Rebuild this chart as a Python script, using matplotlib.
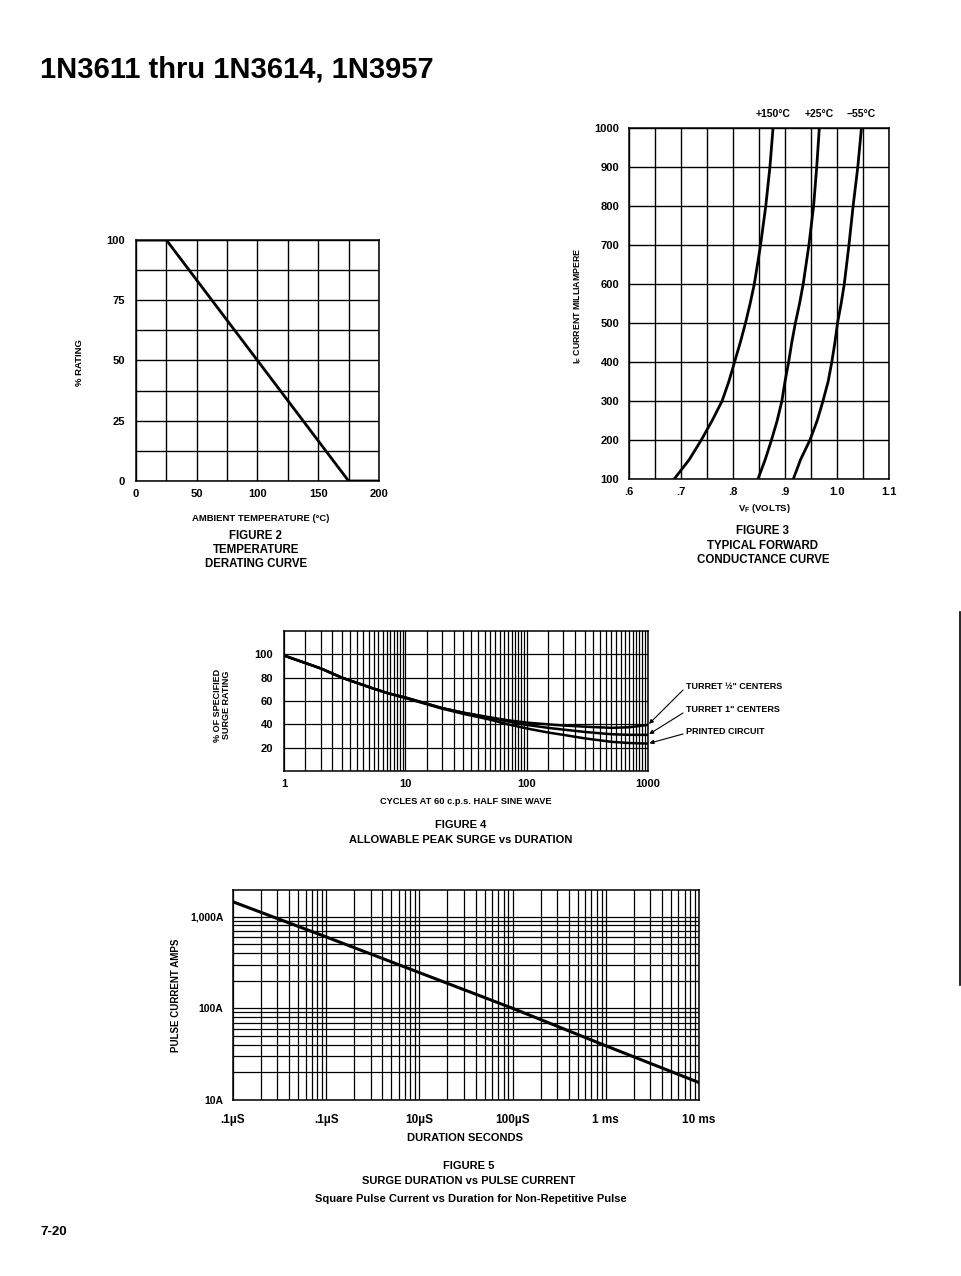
import numpy as np
import matplotlib
matplotlib.use('Agg')
import matplotlib.pyplot as plt
from matplotlib.lines import Line2D
from matplotlib.ticker import FixedLocator, NullFormatter

plt.rcParams['font.family'] = ['Liberation Sans Narrow', 'Liberation Sans', 'DejaVu Sans']
plt.rcParams['font.weight'] = 'bold'
plt.rcParams['axes.linewidth'] = 1.1

W, H = 962, 1276

# figure 2 - temperature derating
temp_x = [0, 25, 175, 200]
rating_y = [100, 100, 0, 0]
temp_ticks = [0, 50, 100, 150, 200]
rating_ticks = [0, 25, 50, 75, 100]

# figure 3 - forward conductance (mA)
vf_ticks = [0.6, 0.7, 0.8, 0.9, 1.0, 1.1]
vf_labels = ['.6', '.7', '.8', '.9', '1.0', '1.1']
if_ticks = [100, 200, 300, 400, 500, 600, 700, 800, 900, 1000]
if_ma = [100, 150, 200, 250, 300, 350, 400, 450, 500, 550, 600, 700, 800, 900, 1000]
vf_150 = [0.687, 0.716, 0.739, 0.760, 0.779, 0.792, 0.803, 0.814, 0.824, 0.833, 0.841,
          0.853, 0.863, 0.871, 0.877]
vf_25 = [0.848, 0.862, 0.874, 0.885, 0.894, 0.900, 0.907, 0.913, 0.920, 0.928, 0.935,
         0.946, 0.955, 0.961, 0.966]
vf_m55 = [0.916, 0.930, 0.948, 0.962, 0.973, 0.983, 0.990, 0.996, 1.001, 1.008, 1.014,
          1.023, 1.031, 1.040, 1.047]
temp_names = ['+150°C', '+25°C', '\u221255°C']

# figure 4 - peak surge vs duration
cycles = [1, 2, 3, 5, 7, 10, 20, 30, 50, 70, 100, 150, 200, 300, 500, 700, 1000]
turret_half = [99, 88, 80, 72, 67, 63, 54, 50, 46, 43.5, 41.5, 40, 39, 38, 37, 37.5, 39.5]
turret_one = [99, 88, 80, 72, 67, 63, 54, 50, 45.5, 42.5, 39.5, 37, 35.5, 33.5, 31.5, 31, 31]
printed = [99, 88, 80, 72, 67, 62.5, 53.5, 49, 44, 40, 36.5, 33, 31, 28, 25, 24, 23.5]
surge_ticks = [20, 40, 60, 80, 100]
cycle_ticks = [1, 10, 100, 1000]
mount_names = ['TURRET \u00bd" CENTERS', 'TURRET 1" CENTERS', 'PRINTED CIRCUIT']

# figure 5 - pulse current vs duration
duration = [1e-7, 1e-6, 1e-5, 1e-4, 1e-3, 1e-2]
pulse = [1450, 600, 245, 100, 39, 15.5]
dur_labels = ['.1\u00b5S', '.1\u00b5S', '10\u00b5S', '100\u00b5S', '1 ms', '10 ms']
amp_ticks = [10, 100, 1000]
amp_labels = ['10A', '100A', '1,000A']


def box(l, t, r, b):
    return [l / W, 1 - b / H, (r - l) / W, (b - t) / H]


def txt(x, y, s, size=6.5, **kw):
    kw.setdefault('ha', 'center')
    kw.setdefault('va', 'center')
    fig.text(x / W, 1 - y / H, s, fontsize=size, fontweight='bold', **kw)


def plain(ax):
    ax.tick_params(which='both', length=0, labelsize=8)
    for s in ax.spines.values():
        s.set_linewidth(1.1)


fig = plt.figure(figsize=(W / 100, H / 100), dpi=100)

txt(40, 70, '1N3611 thru 1N3614, 1N3957', size=21, ha='left',
    family=['Liberation Sans', 'DejaVu Sans'])
txt(40, 1232, '7-20', size=9.5, ha='left', family=['Liberation Sans', 'DejaVu Sans'])

# ---- figure 2
ax2 = fig.add_axes(box(136, 240, 379, 481))
ax2.plot(temp_x, rating_y, color='black', lw=2.0)
ax2.set_xlim(0, 200)
ax2.set_ylim(0, 100)
ax2.set_xticks(temp_ticks)
ax2.set_yticks(rating_ticks)
ax2.xaxis.set_minor_locator(FixedLocator(np.arange(0, 201, 25)))
ax2.yaxis.set_minor_locator(FixedLocator(np.arange(0, 101, 12.5)))
ax2.grid(True, which='both', color='black', lw=1.0)
plain(ax2)
ax2.tick_params(axis='y', pad=8)
ax2.tick_params(axis='x', pad=6)
txt(80, 363, '% RATING', size=6.8, rotation=90)
txt(261, 519, 'AMBIENT TEMPERATURE (°C)', size=6.8)
txt(256, 536, 'FIGURE 2', size=8.3)
txt(256, 550, 'TEMPERATURE', size=8.3)
txt(256, 564, 'DERATING CURVE', size=8.3)

# ---- figure 3
ax3 = fig.add_axes(box(629, 128, 889, 479))
for vf in (vf_150, vf_25, vf_m55):
    ax3.plot(vf, if_ma, color='black', lw=2.0)
ax3.set_xlim(0.6, 1.1)
ax3.set_ylim(100, 1000)
ax3.set_xticks(vf_ticks, vf_labels)
ax3.set_yticks(if_ticks)
ax3.xaxis.set_minor_locator(FixedLocator(np.arange(0.6, 1.1001, 0.05)))
ax3.grid(True, which='both', color='black', lw=1.0)
plain(ax3)
ax3.tick_params(axis='y', pad=7)
ax3.tick_params(axis='x', pad=6)
for vf, name in zip((vf_150, vf_25, vf_m55), temp_names):
    ax3.annotate(name, xy=(vf[-1], 1000), xytext=(0, 10), textcoords='offset points',
                 ha='center', va='center', fontsize=7.5, fontweight='bold',
                 annotation_clip=False)
txt(578, 306, 'I$_\\mathregular{F}$ CURRENT MILLIAMPERE', size=6.3, rotation=90)
txt(764, 509, 'V$_\\mathregular{F}$ (VOLTS)', size=6.8)
txt(763, 531, 'FIGURE 3', size=8.3)
txt(763, 546, 'TYPICAL FORWARD', size=8.3)
txt(763, 560, 'CONDUCTANCE CURVE', size=8.3)

# ---- figure 4
ax4 = fig.add_axes(box(284, 631, 648, 771))
for vals in (turret_half, turret_one, printed):
    ax4.plot(cycles, vals, color='black', lw=1.8)
ax4.set_xscale('log')
ax4.set_xlim(1, 1000)
ax4.set_ylim(0, 120)
ax4.set_xticks(cycle_ticks, [str(c) for c in cycle_ticks])
ax4.set_yticks(surge_ticks)
minor4 = [m * 10 ** d for d in range(3) for m in np.arange(1.5, 10, 0.5)]
ax4.xaxis.set_minor_locator(FixedLocator(minor4))
ax4.xaxis.set_minor_formatter(NullFormatter())
ax4.grid(True, which='both', color='black', lw=0.9)
plain(ax4)
ax4.tick_params(axis='y', pad=8)
ax4.tick_params(axis='x', pad=6)
label_y = [687, 710, 731]
for vals, name, ly in zip((turret_half, turret_one, printed), mount_names, label_y):
    ax4.annotate('', xy=(cycles[-1], vals[-1]), xytext=(683 / W, 1 - (ly + 3) / H),
                 textcoords='figure fraction', annotation_clip=False,
                 arrowprops=dict(arrowstyle='-|>', color='black', lw=0.8,
                                 mutation_scale=6, shrinkA=0, shrinkB=1))
    txt(686, ly, name, size=6.5, ha='left')
txt(222, 705, '% OF SPECIFIED\nSURGE RATING', size=6.5, rotation=90, linespacing=1.1)
txt(466, 801, 'CYCLES AT 60 c.p.s. HALF SINE WAVE', size=6.7)
txt(461, 825, 'FIGURE 4', size=8.0)
txt(461, 840, 'ALLOWABLE PEAK SURGE vs DURATION', size=8.0)

# ---- figure 5
ax5 = fig.add_axes(box(233, 890, 699, 1100))
ax5.plot(duration, pulse, color='black', lw=2.2)
ax5.set_xscale('log')
ax5.set_yscale('log')
ax5.set_xlim(1e-7, 1e-2)
ax5.set_ylim(10, 1950)
ax5.set_xticks(duration, dur_labels)
ax5.set_yticks(amp_ticks, amp_labels)
ax5.xaxis.set_minor_locator(FixedLocator([m * 10.0 ** d for d in range(-7, -2) for m in range(2, 10)]))
ax5.yaxis.set_minor_locator(FixedLocator([m * 10.0 ** d for d in range(1, 3) for m in range(2, 10)]))
ax5.xaxis.set_minor_formatter(NullFormatter())
ax5.yaxis.set_minor_formatter(NullFormatter())
ax5.grid(True, which='both', color='black', lw=0.9)
plain(ax5)
ax5.tick_params(axis='y', pad=7, labelsize=7.5)
ax5.tick_params(axis='x', pad=10, labelsize=8.5)
txt(176, 995, 'PULSE CURRENT AMPS', size=7, rotation=90)
txt(465, 1138, 'DURATION SECONDS', size=8.0)
txt(469, 1166, 'FIGURE 5', size=8.0)
txt(469, 1181, 'SURGE DURATION vs PULSE CURRENT', size=8.0)
txt(471, 1199, 'Square Pulse Current vs Duration for Non-Repetitive Pulse', size=8.0)

# scanner edge line on the right
fig.add_artist(Line2D([960.5 / W, 960.5 / W], [1 - 612 / H, 1 - 985 / H], color='black', lw=1.2))

fig.savefig('out.png', dpi=100)
